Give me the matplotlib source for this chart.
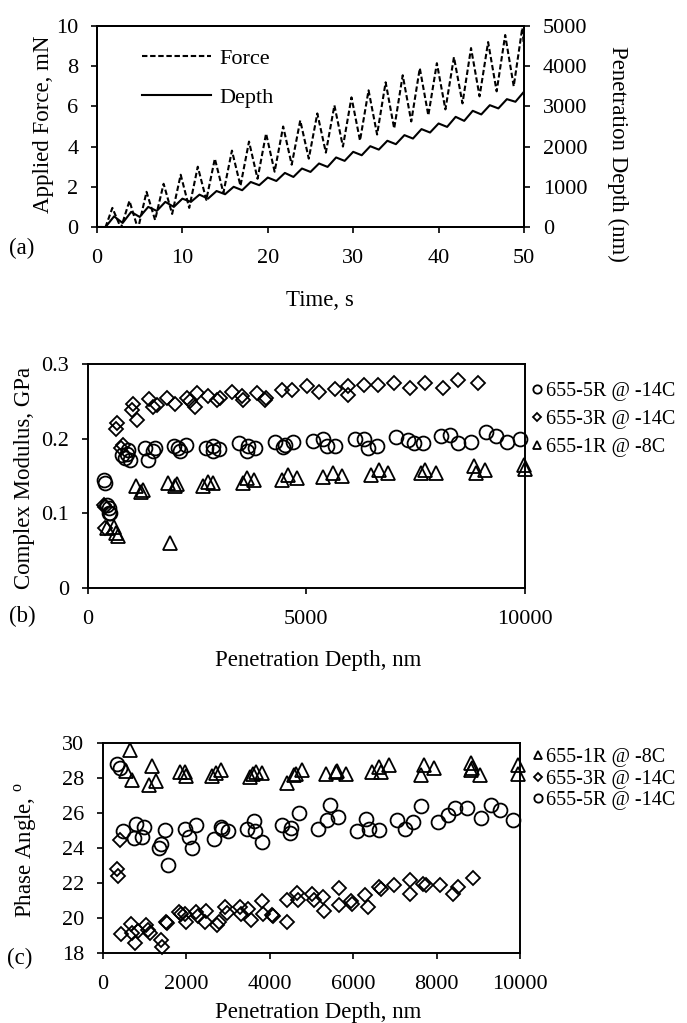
import numpy as np
import matplotlib
matplotlib.use("Agg")
import matplotlib.pyplot as plt

plt.rcParams['font.family'] = ['Liberation Serif', 'DejaVu Serif']
plt.rcParams['font.size'] = 16
plt.rcParams['mathtext.fontset'] = 'custom'
plt.rcParams['mathtext.rm'] = 'Liberation Serif'

# ---- (a) applied force and penetration depth vs time ----
force_t = [0, 1.0, 1.8, 2.8, 3.8, 4.8, 5.8, 6.8, 7.8, 8.8, 9.8, 10.8, 11.8, 12.8,
           13.8, 14.8, 15.8, 16.8, 17.8, 18.8, 19.8, 20.8, 21.8, 22.8, 23.8, 24.8,
           25.8, 26.8, 27.8, 28.8, 29.8, 30.8, 31.8, 32.8, 33.8, 34.8, 35.8, 36.8,
           37.8, 38.8, 39.8, 40.8, 41.8, 42.8, 43.8, 44.8, 45.8, 46.8, 47.8, 48.8,
           49.8, 50.0]
force = [0, 0, 0.95, -0.05, 1.3, -0.1, 1.75, 0.35, 2.15, 0.65, 2.6, 0.95, 3.0, 1.35,
         3.4, 1.7, 3.8, 2.05, 4.25, 2.4, 4.65, 2.75, 5.0, 3.1, 5.3, 3.4, 5.65, 3.7,
         6.05, 4.0, 6.45, 4.3, 6.8, 4.6, 7.2, 4.9, 7.55, 5.25, 7.9, 5.55, 8.15, 5.85,
         8.45, 6.15, 8.9, 6.5, 9.2, 6.75, 9.55, 7.0, 9.9, 9.0]
depth_t = [0, 1, 2, 3, 4, 5, 6, 7, 8, 9, 10, 11, 12, 13, 14, 15, 16, 17, 18, 19, 20,
           21, 22, 23, 24, 25, 26, 27, 28, 29, 30, 31, 32, 33, 34, 35, 36, 37, 38,
           39, 40, 41, 42, 43, 44, 45, 46, 47, 48, 49, 50]
depth = [0, 0, 265, 100, 375, 250, 500, 400, 625, 500, 705, 625, 805, 705, 895, 815,
         1000, 915, 1120, 1040, 1230, 1145, 1345, 1245, 1455, 1370, 1580, 1495, 1730,
         1645, 1870, 1785, 2010, 1925, 2145, 2060, 2285, 2200, 2435, 2350, 2575, 2490,
         2740, 2640, 2890, 2800, 3030, 2950, 3180, 3115, 3365]

# ---- (b) complex modulus vs penetration depth ----
b_5r_x = [370, 400, 451, 480, 499, 514, 781, 850, 895, 920, 971, 1314, 1390, 1504, 1543,
          1977, 2076, 2114, 2251, 2708, 2860, 2876, 3013, 3470, 3638, 3660, 3829, 4286,
          4461, 4514, 4690, 5162, 5375, 5467, 5657, 6114, 6320, 6419, 6610, 7051, 7322,
          7472, 7673, 8074, 8275, 8475, 8756, 9107, 9328, 9579, 9880]
b_5r_y = [0.145, 0.140, 0.111, 0.100, 0.107, 0.101, 0.178, 0.174, 0.180, 0.185, 0.171,
          0.187, 0.171, 0.183, 0.187, 0.190, 0.188, 0.183, 0.192, 0.187, 0.190, 0.183,
          0.186, 0.194, 0.183, 0.190, 0.188, 0.195, 0.189, 0.191, 0.196, 0.197, 0.200,
          0.190, 0.190, 0.200, 0.199, 0.188, 0.190, 0.202, 0.198, 0.194, 0.194, 0.203,
          0.205, 0.194, 0.196, 0.209, 0.203, 0.196, 0.200]
b_3r_x = [377, 400, 400, 648, 666, 758, 800, 1028, 1047, 1139, 1413, 1504, 1580, 1810,
          2000, 2282, 2342, 2457, 2510, 2762, 2968, 3030, 3295, 3524, 3562, 3867, 4057,
          4080, 4438, 4667, 5024, 5299, 5657, 5962, 5962, 6320, 6648, 7000, 7372, 7723,
          8124, 8475, 8927]
b_3r_y = [0.111, 0.109, 0.080, 0.2125, 0.221, 0.188, 0.191, 0.238, 0.247, 0.225, 0.253,
          0.243, 0.245, 0.255, 0.246, 0.255, 0.250, 0.243, 0.261, 0.257, 0.252, 0.255,
          0.263, 0.257, 0.252, 0.2615, 0.252, 0.255, 0.265, 0.265, 0.270, 0.262, 0.267,
          0.270, 0.2585, 0.272, 0.272, 0.275, 0.268, 0.275, 0.268, 0.279, 0.2745]
b_1r_x = [438, 606, 640, 705, 1109, 1212, 1257, 1848, 1886, 2000, 2040, 2632, 2762, 2876,
          3547, 3638, 3806, 4438, 4590, 4796, 5375, 5619, 5810, 6472, 6670, 6876, 7623,
          7723, 7974, 8826, 8876, 9077, 9980, 10000]
b_1r_y = [0.080, 0.082, 0.074, 0.069, 0.136, 0.129, 0.131, 0.140, 0.060, 0.136, 0.139,
          0.136, 0.142, 0.141, 0.140, 0.147, 0.145, 0.144, 0.151, 0.147, 0.149, 0.154,
          0.150, 0.151, 0.158, 0.154, 0.154, 0.158, 0.154, 0.163, 0.154, 0.158, 0.165,
          0.160]

# ---- (c) phase angle vs penetration depth ----
c_1r_x = [544, 640, 704, 1104, 1184, 1264, 1840, 1968, 2000, 2624, 2704, 2824, 3520,
          3600, 3664, 3808, 4424, 4584, 4624, 4784, 5344, 5584, 5600, 5824, 6448, 6624,
          6664, 6848, 7625, 7705, 7945, 8825, 8825, 8850, 9041, 9950, 9950]
c_1r_y = [28.4, 29.6, 27.9, 27.6, 28.7, 27.85, 28.35, 28.35, 28.1, 28.1, 28.3, 28.45,
          28.05, 28.25, 28.35, 28.3, 27.7, 28.15, 28.25, 28.45, 28.25, 28.35, 28.4, 28.25,
          28.35, 28.65, 28.35, 28.75, 28.15, 28.75, 28.6, 28.85, 28.45, 28.55, 28.2,
          28.75, 28.25]
c_3r_x = [344, 360, 400, 424, 664, 704, 768, 848, 1024, 1088, 1120, 1384, 1408, 1504,
          1544, 1824, 1864, 1968, 2000, 2224, 2290, 2448, 2480, 2744, 2784, 2928, 2984,
          3280, 3304, 3488, 3544, 3824, 3840, 4048, 4080, 4408, 4424, 4664, 4688, 5024,
          5064, 5280, 5304, 5648, 5648, 5944, 5968, 6288, 6344, 6624, 6664, 6984, 7360,
          7360, 7665, 7745, 8081, 8401, 8505, 8865]
c_3r_y = [22.8, 22.4, 24.45, 19.1, 19.65, 19.15, 18.55, 19.25, 19.6, 19.3, 19.15, 18.75,
          18.35, 19.8, 19.7, 20.35, 20.25, 20.25, 19.8, 20.35, 20.1, 19.75, 20.4, 19.6,
          19.8, 20.65, 20.3, 20.65, 20.25, 20.5, 19.9, 21.0, 20.25, 20.15, 20.1, 21.05,
          19.75, 21.45, 21.05, 21.4, 21.05, 21.2, 20.4, 21.7, 20.75, 20.95, 20.8, 21.3,
          20.65, 21.8, 21.65, 21.9, 22.2, 21.35, 21.95, 21.9, 21.9, 21.4, 21.8, 22.3]
c_5r_x = [344, 400, 480, 744, 785, 944, 984, 1344, 1384, 1488, 1560, 1968, 2064, 2128,
          2240, 2664, 2824, 2848, 3008, 3448, 3624, 3648, 3824, 4288, 4480, 4504, 4704,
          5160, 5384, 5440, 5624, 6088, 6304, 6384, 6608, 7060, 7250, 7430, 7625, 8024,
          8264, 8449, 8720, 9065, 9305, 9521, 9841]
c_5r_y = [28.8, 28.55, 25.0, 24.55, 25.4, 24.65, 25.2, 24.0, 24.25, 25.05, 23.05, 25.1,
          24.65, 24.0, 25.3, 24.5, 25.2, 25.1, 24.95, 25.1, 25.55, 25.0, 24.35, 25.3, 24.85,
          25.15, 26.0, 25.1, 25.6, 26.45, 25.75, 25.0, 25.65, 25.1, 25.05, 25.6, 25.1,
          25.5, 26.4, 25.5, 25.9, 26.3, 26.3, 25.7, 26.45, 26.2, 25.6]

lbl_5r = "655-5R @ -14C"
lbl_3r = "655-3R @ -14C"
lbl_1r = "655-1R @ -8C"

fig = plt.figure(figsize=(6.87, 10.23), dpi=100)


def style_axes(ax):
    for s in ax.spines.values():
        s.set_linewidth(1.4)
    ax.tick_params(direction='out', length=4.5, width=1.2, labelsize=16)
    ax.tick_params(axis='x', pad=11)
    ax.tick_params(axis='y', pad=9)


mk = dict(linestyle='none', mfc='none', mec='k', mew=1.3, clip_on=False)

# panel (a)
ax1 = fig.add_axes([0.1412, 0.7781, 0.6215, 0.1965])
ln1, = ax1.plot(force_t, force, color='k', lw=1.5, ls=(0, (2.6, 1.3)), label='Force')
ax1.set_xlim(0, 50)
ax1.set_ylim(0, 10)
ax1.set_xticks([0, 10, 20, 30, 40, 50])
ax1.set_yticks([0, 2, 4, 6, 8, 10])
style_axes(ax1)
ax2 = ax1.twinx()
ln2, = ax2.plot(depth_t, depth, color='k', lw=1.5, label='Depth')
ax2.set_ylim(0, 5000)
ax2.set_yticks([0, 1000, 2000, 3000, 4000, 5000])
style_axes(ax2)
ax1.legend(handles=[ln1, ln2], loc='upper left', bbox_to_anchor=(0.105, 0.89),
           frameon=False, handlelength=3.1, handletextpad=0.4, labelspacing=0.85,
           borderpad=0, borderaxespad=0, fontsize=16)
fig.text(0.064, 0.879, "Applied Force, mN", rotation=90, ha='center', va='center', fontsize=16.5)
fig.text(0.8996, 0.850, "Penetration Depth (nm)", rotation=270, ha='center', va='center', fontsize=16.5)
fig.text(0.466, 0.7067, "Time, s", ha='center', va='center', fontsize=16.5)
fig.text(0.032, 0.7576, "(a)", ha='center', va='center', fontsize=16.5)

# panel (b)
axb = fig.add_axes([0.1274, 0.4252, 0.6368, 0.219])
axb.plot(b_5r_x, b_5r_y, marker='o', ms=10, label=lbl_5r, **mk)
axb.plot(b_3r_x, b_3r_y, marker='D', ms=7, label=lbl_3r, **mk)
axb.plot(b_1r_x, b_1r_y, marker='^', ms=10.5, label=lbl_1r, **mk)
axb.set_xlim(0, 10000)
axb.set_ylim(0, 0.3)
axb.set_xticks([0, 5000, 10000])
axb.set_yticks([0, 0.1, 0.2, 0.3])
axb.set_yticklabels(["0", "0.1", "0.2", "0.3"])
style_axes(axb)
axb.legend(loc='upper left', bbox_to_anchor=(1.017, 0.92), frameon=False,
           handlelength=0.5, handletextpad=0.15, labelspacing=0.45, markerscale=0.6,
           borderpad=0, borderaxespad=0, fontsize=14.5)
fig.text(0.035, 0.533, "Complex Modulus, GPa", rotation=90, ha='center', va='center', fontsize=16.5)
fig.text(0.463, 0.3548, "Penetration Depth, nm", ha='center', va='center', fontsize=16.5)
fig.text(0.032, 0.397, "(b)", ha='center', va='center', fontsize=16.5)

# panel (c)
axc = fig.add_axes([0.1499, 0.0684, 0.607, 0.2053])
axc.plot(c_1r_x, c_1r_y, marker='^', ms=10.5, label=lbl_1r, **mk)
axc.plot(c_3r_x, c_3r_y, marker='D', ms=7, label=lbl_3r, **mk)
axc.plot(c_5r_x, c_5r_y, marker='o', ms=10, label=lbl_5r, **mk)
axc.set_xlim(0, 10000)
axc.set_ylim(18, 30)
axc.set_xticks([0, 2000, 4000, 6000, 8000, 10000])
axc.set_yticks([18, 20, 22, 24, 26, 28, 30])
style_axes(axc)
axc.legend(loc='upper left', bbox_to_anchor=(1.03, 0.975), frameon=False,
           handlelength=0.5, handletextpad=0.15, labelspacing=0.12, markerscale=0.6,
           borderpad=0, borderaxespad=0, fontsize=14.5)
fig.text(0.038, 0.169, r"Phase Angle, $^{\mathrm{o}}$", rotation=90, ha='center', va='center', fontsize=16.5)
fig.text(0.463, 0.0098, "Penetration Depth, nm", ha='center', va='center', fontsize=16.5)
fig.text(0.029, 0.0635, "(c)", ha='center', va='center', fontsize=16.5)

fig.savefig("out.png", dpi=100)
